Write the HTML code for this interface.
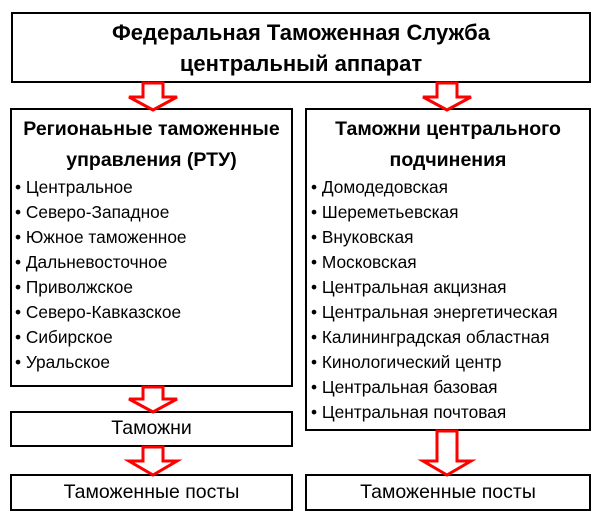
<!DOCTYPE html>
<html><head><meta charset="utf-8"><style>
body{margin:0;width:600px;height:525px;background:#fff;position:relative;font-family:"Liberation Sans","DejaVu Sans",sans-serif;color:#000;overflow:hidden}
.b{position:absolute;border:2.5px solid #000;box-sizing:border-box;background:#fff}
.c{text-align:center}
.t{position:absolute;white-space:nowrap;font-size:17.3px}
svg{position:absolute;left:0;top:0}
</style></head><body>
<div class="b c" style="left:11px;top:12px;width:580px;height:71px;font-weight:bold;font-size:22px;line-height:31px;padding-top:3px">Федеральная Таможенная Служба<br>центральный аппарат</div>
<div class="b" style="left:10px;top:108px;width:283px;height:279px"></div>
<div class="b" style="left:305px;top:108px;width:286px;height:323px"></div>
<div class="b c" style="left:10px;top:411px;width:283px;height:36px;font-size:19.5px;line-height:31px">Таможни</div>
<div class="b c" style="left:10px;top:474px;width:283px;height:37px;font-size:19.5px;line-height:32px">Таможенные посты</div>
<div class="b c" style="left:305px;top:474px;width:286px;height:37px;font-size:19.5px;line-height:32px">Таможенные посты</div>
<div class="t c" style="left:10px;width:283px;top:114px;font-weight:bold;font-size:19.5px;line-height:31px">Регионаьные таможенные<br>управления (РТУ)</div>
<div class="t c" style="left:305px;width:286px;top:114px;font-weight:bold;font-size:19.5px;line-height:31px">Таможни центрального<br>подчинения</div>
<div class="t" style="left:15px;top:175px;line-height:25px">• Центральное<br>• Северо-Западное<br>• Южное таможенное<br>• Дальневосточное<br>• Приволжское<br>• Северо-Кавказское<br>• Сибирское<br>• Уральское</div>
<div class="t" style="left:311px;top:175px;line-height:25px">• Домодедовская<br>• Шереметьевская<br>• Внуковская<br>• Московская<br>• Центральная акцизная<br>• Центральная энергетическая<br>• Калининградская областная<br>• Кинологический центр<br>• Центральная базовая<br>• Центральная почтовая</div>
<svg width="600" height="525" fill="#fff" stroke="#f00" stroke-width="3">
<path d="M143,83 L163,83 L163,97 L177,97 L153,110 L129,97 L143,97 Z"/>
<path d="M437,83 L457,83 L457,97 L471,97 L447,110 L423,97 L437,97 Z"/>
<path d="M143,387 L163,387 L163,399 L177,399 L153,412 L129,399 L143,399 Z"/>
<path d="M143,447 L163,447 L163,461 L177,461 L153,475 L129,461 L143,461 Z"/>
<path d="M437,431 L457,431 L457,461 L471,461 L447,475 L423,461 L437,461 Z"/>
</svg>
</body></html>
